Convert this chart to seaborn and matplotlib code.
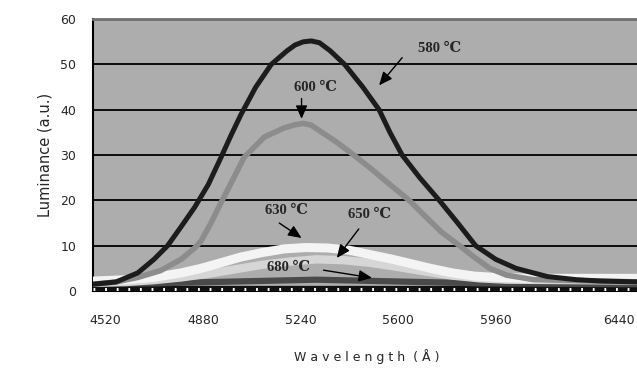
import numpy as np
import pandas as pd
import matplotlib
matplotlib.use("Agg")
import matplotlib.pyplot as plt
import matplotlib.transforms as mtransforms
import seaborn as sns

# ==========================================
# DATA
# ==========================================

wl_580 = [4475, 4560, 4640, 4700, 4750, 4800, 4850, 4900, 4947, 4985,
          5021, 5075, 5132, 5190, 5220, 5250, 5280, 5310, 5350, 5403, 5470,
          5530, 5570, 5615, 5680, 5752, 5820, 5886, 5960, 6035, 6150, 6257,
          6350, 6495]
lum_580 = [1.5, 2, 4, 7, 10, 14.2, 18.5, 23.5, 29.5, 34.5,
           39, 45, 50, 53, 54.3, 55, 55.2, 54.8, 53, 50, 45,
           40, 35, 30, 25, 20, 15, 10, 7, 5, 3.2, 2.5,
           2.2, 2]

wl_600 = [4475, 4560, 4640, 4724, 4800, 4850, 4873, 4910, 4947, 4990, 5032,
          5107, 5180, 5220, 5250, 5280, 5307, 5370, 5437, 5500, 5570, 5641,
          5700, 5760, 5827, 5880, 5938, 6000, 6100, 6495]
lum_600 = [1.5, 2, 3, 4.5, 7, 9.5, 11, 15, 19.5, 24.5, 29.5,
           34, 36, 36.7, 37, 36.6, 35.5, 33, 30, 27, 23.5, 20,
           16.5, 13, 10, 7.5, 5, 3.5, 2.5, 2]

wl_630 = [4475, 4600, 4700, 4800, 4873, 4950, 5020, 5100, 5180, 5260, 5340,
          5420, 5500, 5580, 5650, 5720, 5800, 5880, 5960, 6100, 6495]
lum_630 = [2.2, 2.5, 3, 4, 5, 6.3, 7.5, 8.5, 9.3, 9.6, 9.5,
           9, 8, 7, 6, 5, 4, 3.3, 3, 2.8, 2.8]

wl_650 = [4475, 4600, 4700, 4800, 4900, 5000, 5100, 5200, 5300, 5400, 5500,
          5600, 5700, 5800, 5900, 6000, 6495]
lum_650 = [1.8, 2, 2.4, 3, 3.8, 4.8, 5.8, 6.5, 7, 6.8, 6.2,
           5.3, 4.3, 3.4, 2.8, 2.5, 2.3]

wl_680 = [4475, 4700, 5000, 5300, 5600, 5900, 6495]
lum_680 = [1.6, 1.7, 2.1, 2.5, 2.1, 1.7, 1.5]

wl_base = [4475, 6495]
lum_base = [0.55, 0.55]

x_ticks = [4520, 4880, 5240, 5600, 5960, 6440]
y_ticks = [0, 10, 20, 30, 40, 50, 60]

# ==========================================
# TABLE
# ==========================================

frames = []
for name, wl, lum in [
    ("base", wl_base, lum_base),
    ("680", wl_680, lum_680),
    ("650", wl_650, lum_650),
    ("630", wl_630, lum_630),
    ("600", wl_600, lum_600),
    ("580", wl_580, lum_580),
]:
    frames.append(pd.DataFrame({"Wavelength": wl, "Luminance": lum, "T": name}))
df = pd.concat(frames, ignore_index=True)

styles = {
    "base": ("#111111", 4.5),
    "680": ("#4a4a4a", 4.5),
    "650": ("#d6d6d6", 6.0),
    "630": ("#f4f4f4", 6.5),
    "600": ("#8c8c8c", 4.0),
    "580": ("#1c1c1c", 3.6),
}

# ==========================================
# PLOT
# ==========================================

sns.set_style("white")
plt.rcParams["font.family"] = ["DejaVu Sans"]

fig = plt.figure(figsize=(6.37, 3.76), dpi=100)
ax = fig.add_axes([0.146, 0.226, 0.86, 0.723])
ax.set_facecolor("#adadad")

for y in y_ticks[1:-1]:
    ax.axhline(y, color="black", lw=1.3, zorder=1)

for name in styles:
    color, lw = styles[name]
    sns.lineplot(
        data=df[df["T"] == name],
        x="Wavelength",
        y="Luminance",
        color=color,
        lw=lw,
        ax=ax,
        zorder=3,
        estimator=None,
        sort=False,
    )

# white tick texture on the baseline
ax.plot(wl_base, lum_base, color="white", lw=2.2, dashes=(0.6, 3.2), zorder=3)

ax.set_xlim(4475, 6495)
ax.set_ylim(0, 60)
ax.set_xticks(x_ticks)
ax.set_yticks(y_ticks)
ax.tick_params(axis="x", length=0, pad=16.5, labelsize=9)
ax.tick_params(axis="y", length=0, pad=12, labelsize=9)

# last category label sits a bit left in the original
last = ax.get_xticklabels()[-1]
last.set_transform(last.get_transform() +
                   mtransforms.ScaledTranslation(-7 / 100, 0, fig.dpi_scale_trans))

ax.set_xlabel("W a v e l e n g t h  ( Å )", fontsize=9, labelpad=16)
ax.set_ylabel("Luminance (a.u.)", fontsize=10.5, labelpad=6)

for s in ["left", "bottom"]:
    ax.spines[s].set_color("black")
    ax.spines[s].set_linewidth(1.5)
ax.spines["top"].set_color("#707070")
ax.spines["top"].set_linewidth(2)
ax.spines["right"].set_visible(False)

# ==========================================
# LABELS
# ==========================================

label_font = dict(fontsize=10.5, fontweight="bold",
                  family=["Liberation Serif", "DejaVu Serif"],
                  ha="center", va="center", zorder=5)
arrow = dict(arrowstyle="-|>,head_length=0.8,head_width=0.35",
             color="black", lw=1.0, shrinkA=0, shrinkB=0)

labels = [
    ("580 ℃", 5752, 53.5, 5615, 51.5, 5530, 45.4),
    ("600 ℃", 5296, 44.9, 5244, 42.5, 5244, 38.0),
    ("630 ℃", 5188, 17.7, 5162, 15.0, 5244, 11.7),
    ("650 ℃", 5496, 16.8, 5455, 13.7, 5374, 7.3),
    ("680 ℃", 5196, 5.3, 5325, 4.6, 5504, 2.9),
]
for text, tx, ty, ax0, ay0, ax1, ay1 in labels:
    ax.text(tx, ty, text, **label_font)
    ax.annotate("", xy=(ax1, ay1), xytext=(ax0, ay0),
                arrowprops=arrow, zorder=5)

fig.savefig("out.png", dpi=100)
